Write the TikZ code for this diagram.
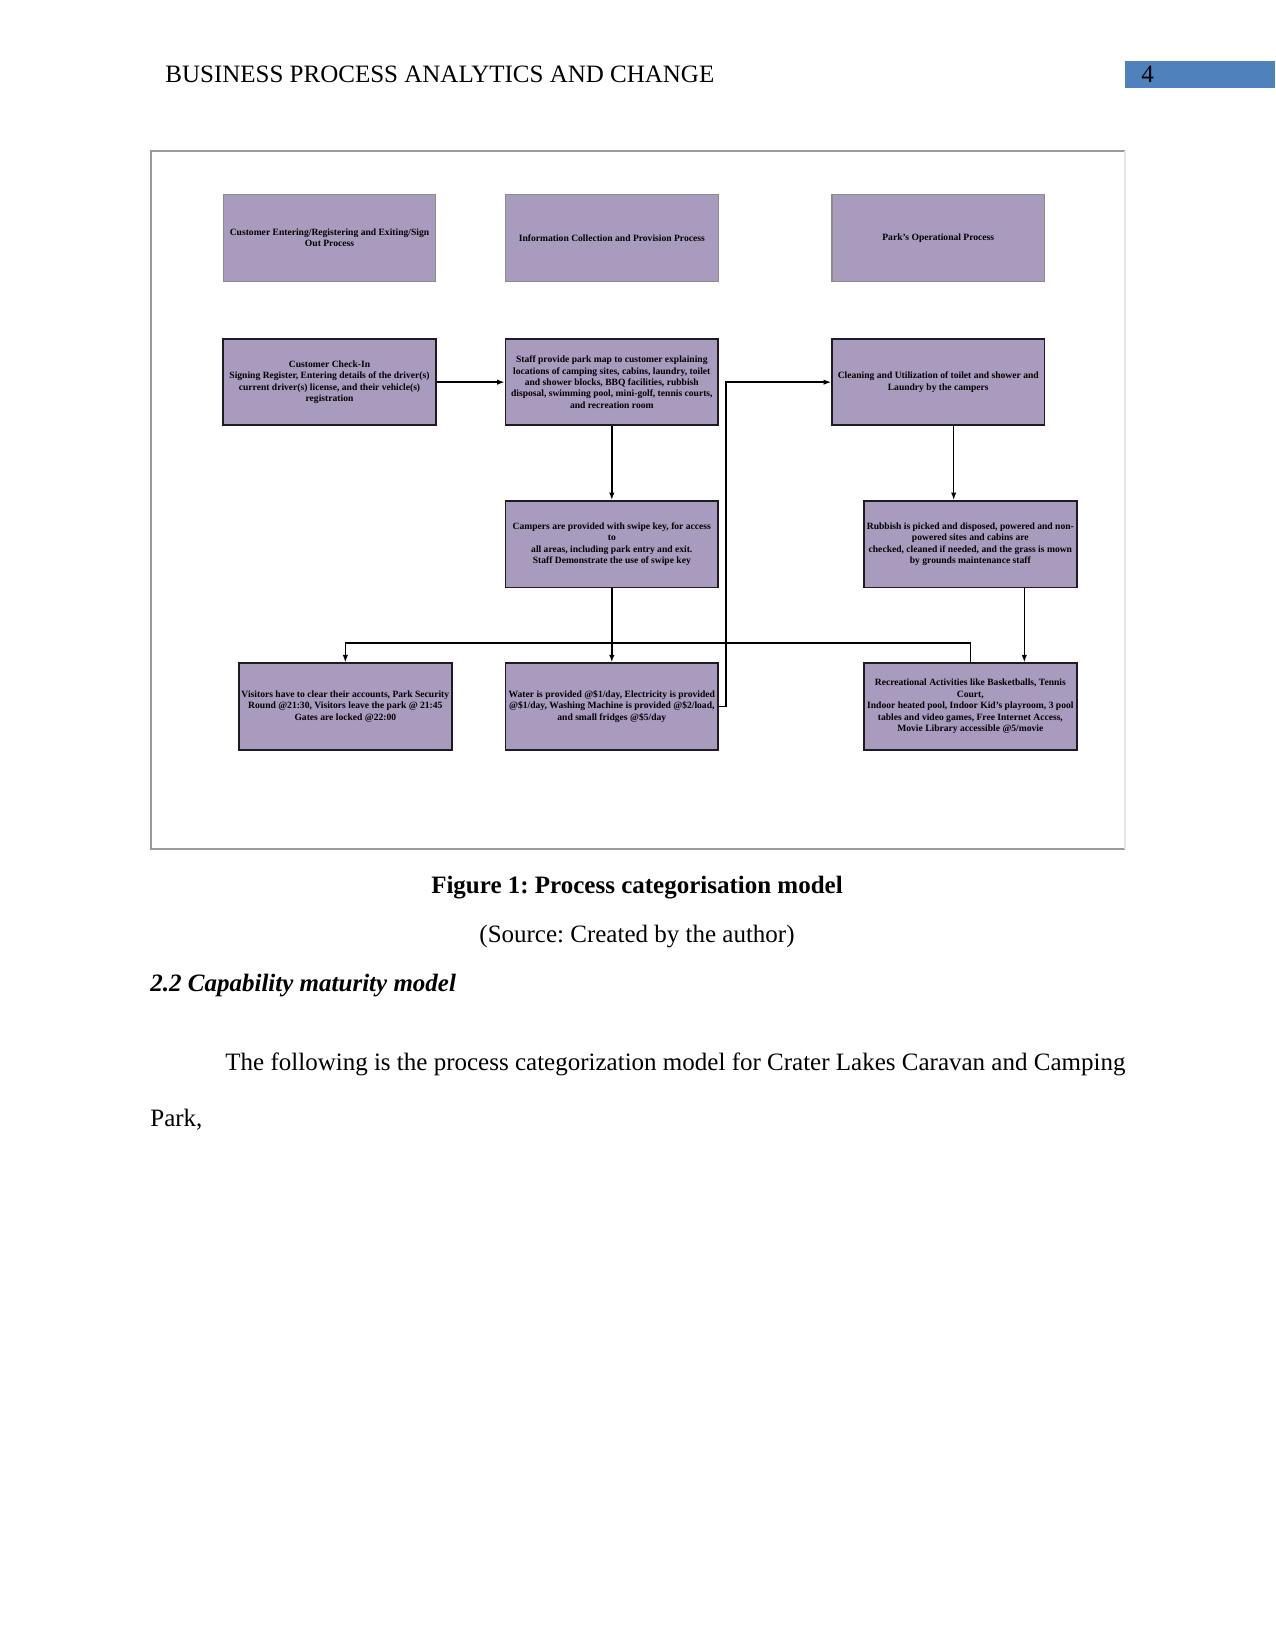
\documentclass[tikz,border=0pt]{standalone}
\usepackage{fontspec}
\setmainfont{Liberation Serif}
\frenchspacing
\definecolor{BoxPurple}{HTML}{A99BBE}
\definecolor{BoxEdge}{HTML}{1F1A24}
\definecolor{HeadEdge}{HTML}{8C8C8C}
\definecolor{PageBlue}{HTML}{4F81BD}
\definecolor{FrameGray}{HTML}{9A9A9A}
\usetikzlibrary{arrows.meta,positioning}
\tikzset{
  catbox/.style={draw=HeadEdge, fill=BoxPurple, align=center, minimum width=102pt, minimum height=41.5pt, inner sep=1pt, line width=0.5pt, font=\fontsize{4.6}{5.5}\selectfont\bfseries},
  taskbox/.style={draw=BoxEdge, fill=BoxPurple, align=center, minimum width=102pt, minimum height=41.5pt, inner sep=1pt, line width=0.9pt, font=\fontsize{4.6}{5.5}\selectfont\bfseries},
  arrow/.style={-{Latex[length=3.6pt,width=2.6pt]}, line width=0.7pt, black},
  flow/.style={line width=0.7pt, black},
  pagetext/.style={font=\fontsize{12}{14}\selectfont, anchor=base west, inner sep=0pt}
}

\begin{document}
\begin{tikzpicture}[x=0.48pt, y=-0.48pt]
    \useasboundingbox (0,0) rectangle (1275,1650);

    % running head
    \node[pagetext] (head) at (165,83) {BUSINESS PROCESS ANALYTICS AND CHANGE};
    \fill[PageBlue] (1125,61) rectangle (1275,88);
    \node[pagetext] (pageno) at (1141,83) {4};

    % figure frame
    \draw[FrameGray, line width=0.6pt] (1125,151) -- (151,151) -- (151,849) -- (1125,849);
    \draw[FrameGray!25, line width=0.6pt] (1125,151) -- (1125,849);

    % process categories
    \node[catbox] (catEntry) at (329.5,238) {Customer Entering/Registering and Exiting/Sign\\Out Process};
    \node[catbox, right=33pt of catEntry] (catInfo) {Information Collection and Provision Process};
    \node[catbox, right=54.2pt of catInfo] (catOps) {Park’s Operational Process};

    % activities
    \node[taskbox, below=27pt of catEntry] (checkIn) {Customer Check-In\\Signing Register, Entering details of the driver(s)\\current driver(s) license, and their vehicle(s)\\registration};
    \node[taskbox, below=27pt of catInfo] (parkMap) {Staff provide park map to customer explaining\\locations of camping sites, cabins, laundry, toilet\\and shower blocks, BBQ facilities, rubbish\\disposal, swimming pool, mini-golf, tennis courts,\\and recreation room};
    \node[taskbox, below=27pt of catOps] (cleaning) {Cleaning and Utilization of toilet and shower and\\Laundry by the campers};
    \node[taskbox, below=35.4pt of parkMap] (swipeKey) {Campers are provided with swipe key, for access\\to\\all areas, including park entry and exit.\\Staff Demonstrate the use of swipe key};
    \node[taskbox, below=35.4pt of cleaning, xshift=15.4pt] (rubbish) {Rubbish is picked and disposed, powered and non-\\powered sites and cabins are\\checked, cleaned if needed, and the grass is mown\\by grounds maintenance staff};
    \node[taskbox, below=35.5pt of swipeKey] (utility) {Water is provided @\$1/day, Electricity is provided\\@\$1/day, Washing Machine is provided @\$2/load,\\and small fridges @\$5/day};
    \node[taskbox, left=25pt of utility] (visitors) {Visitors have to clear their accounts, Park Security\\Round @21:30, Visitors leave the park @ 21:45\\Gates are locked @22:00};
    \node[taskbox, below=35.5pt of rubbish] (recreation) {Recreational Activities like Basketballs, Tennis\\Court,\\Indoor heated pool, Indoor Kid’s playroom, 3 pool\\tables and video games, Free Internet Access,\\Movie Library accessible @5/movie};

    \coordinate[below=26.1pt of swipeKey.south] (split);

    \draw[arrow] (checkIn) -- (parkMap);
    \draw[arrow] (parkMap) -- (swipeKey);
    \draw[flow] (swipeKey) -- (split);
    \draw[arrow] (split) -- (utility);
    \draw[arrow] (split) -| (visitors);
    \draw[flow] (split) -| (recreation);
    \draw[arrow] (utility.east) -- ++(3.4pt,0) |- (cleaning.west);
    \draw[arrow] ([xshift=7.4pt]cleaning.south) -- ([xshift=7.4pt]cleaning.south |- rubbish.north);
    \draw[arrow] ([xshift=25.9pt]rubbish.south) -- ([xshift=25.9pt]rubbish.south |- recreation.north);

    % caption and body text
    \node[font=\fontsize{12}{14}\selectfont\bfseries, inner sep=0pt, anchor=base] (caption) at (637,893) {Figure 1: Process categorisation model};
    \node[font=\fontsize{12}{14}\selectfont, inner sep=0pt, anchor=base] (source) at (637,942) {(Source: Created by the author)};
    \node[pagetext, font=\fontsize{12}{14}\selectfont\bfseries\itshape] (section) at (150,991) {2.2 Capability maturity model};
    \node[pagetext] (para) at (225,1070) {\makebox[432pt][s]{The following is the process categorization model for Crater Lakes Caravan and Camping}};
    \node[pagetext] (paraEnd) at (150,1126) {Park,};
  \end{tikzpicture}
\end{document}
